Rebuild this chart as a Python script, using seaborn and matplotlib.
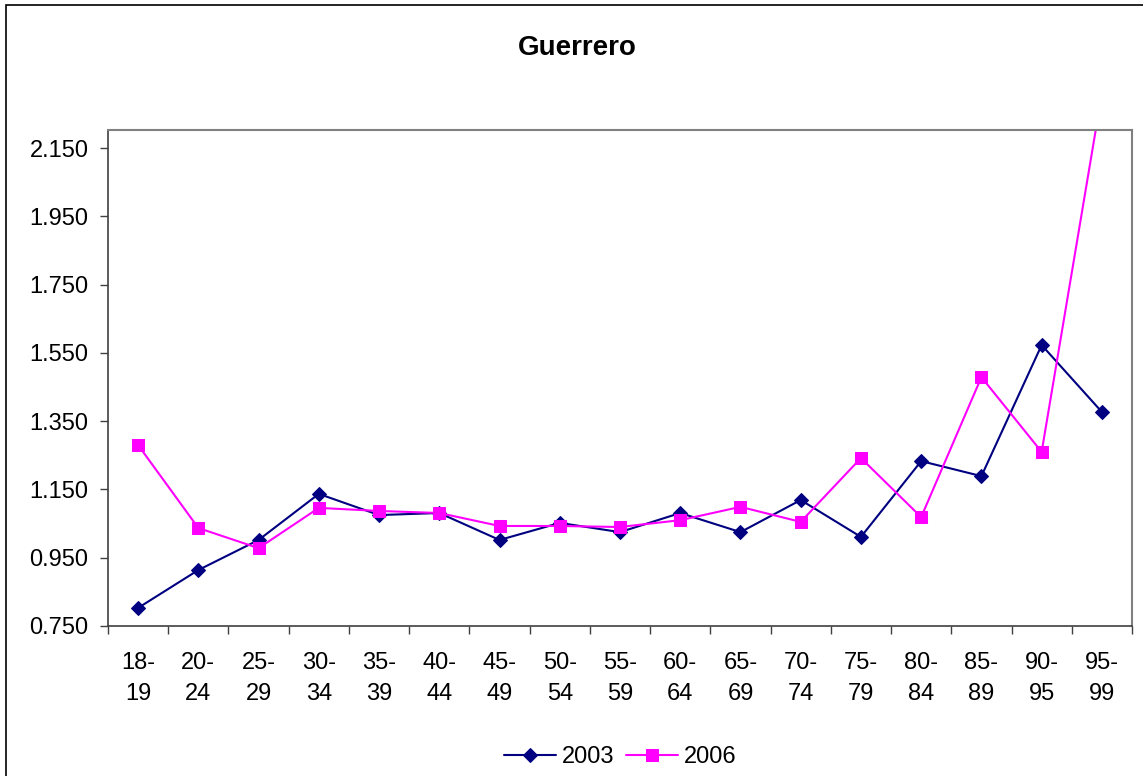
import numpy as np
import pandas as pd
import matplotlib
matplotlib.use("Agg")
import matplotlib.pyplot as plt
from matplotlib.patches import Rectangle
from matplotlib.ticker import FixedLocator, FixedFormatter
import seaborn as sns

# ==============================
# DATOS
# ==============================
grupos = ["18-\n19", "20-\n24", "25-\n29", "30-\n34", "35-\n39", "40-\n44",
          "45-\n49", "50-\n54", "55-\n59", "60-\n64", "65-\n69", "70-\n74",
          "75-\n79", "80-\n84", "85-\n89", "90-\n95", "95-\n99"]
valores_2003 = [0.803, 0.914, 1.002, 1.137, 1.075, 1.081, 1.002, 1.052, 1.025,
                1.081, 1.025, 1.119, 1.011, 1.233, 1.189, 1.573, 1.377]
valores_2006 = [1.280, 1.037, 0.978, 1.096, 1.087, 1.081, 1.043, 1.043, 1.040,
                1.060, 1.099, 1.055, 1.242, 1.069, 1.479, 1.260, 2.310]
ticks_y = [0.75, 0.95, 1.15, 1.35, 1.55, 1.75, 1.95, 2.15]
etiquetas_y = ["0.750", "0.950", "1.150", "1.350", "1.550", "1.750", "1.950", "2.150"]

df = pd.DataFrame({
    "pos": list(range(len(grupos))) * 2,
    "valor": valores_2003 + valores_2006,
    "serie": ["2003"] * len(grupos) + ["2006"] * len(grupos),
})

# ==============================
# CONFIGURACION VISUAL
# ==============================
sns.set_theme(style="white")
plt.rcParams["font.family"] = ["Liberation Sans", "DejaVu Sans"]
plt.rcParams["text.color"] = "black"
plt.rcParams["xtick.labelcolor"] = "black"
plt.rcParams["ytick.labelcolor"] = "black"

fig = plt.figure(figsize=(11.43, 7.76), dpi=100)
ax = fig.add_axes([108 / 1143, 150 / 776, (1132 - 108) / 1143, (626 - 130) / 776])

sns.lineplot(data=df[df["serie"] == "2003"], x="pos", y="valor", ax=ax,
             color="#000080", marker="D", markersize=7, linewidth=1.5,
             markeredgecolor="#000080", label="2003")
sns.lineplot(data=df[df["serie"] == "2006"], x="pos", y="valor", ax=ax,
             color="#FF00FF", marker="s", markersize=8, linewidth=1.5,
             markeredgecolor="#FF00FF", label="2006")

ax.set_xlim(-0.5, len(grupos) - 0.5)
ax.set_ylim(0.75, 2.203)
ax.set_xlabel("")
ax.set_ylabel("")

ax.xaxis.set_major_locator(FixedLocator(range(len(grupos))))
ax.xaxis.set_major_formatter(FixedFormatter(grupos))
ax.xaxis.set_minor_locator(FixedLocator(np.arange(-0.5, len(grupos), 1.0)))
ax.yaxis.set_major_locator(FixedLocator(ticks_y))
ax.yaxis.set_major_formatter(FixedFormatter(etiquetas_y))

ax.tick_params(axis="x", which="major", length=0, pad=19, labelsize=17,
               labelcolor="black")
ax.tick_params(axis="x", which="minor", length=6, width=1, direction="out",
               color="#404040", bottom=True)
ax.tick_params(axis="y", which="major", length=6, width=1, direction="out",
               color="#404040", pad=8, labelsize=17, left=True, labelcolor="black")
for lbl in ax.get_xticklabels():
    lbl.set_linespacing(1.5)

for lado in ["left", "bottom"]:
    ax.spines[lado].set_color("#404040")
    ax.spines[lado].set_linewidth(1.2)
for lado in ["top", "right"]:
    ax.spines[lado].set_color("#808080")
    ax.spines[lado].set_linewidth(1.5)
ax.grid(False)

fig.text(0.505, 1 - 48 / 776, "Guerrero", ha="center", va="center",
         fontsize=20, fontweight="bold", color="black")

leg = ax.legend(loc="center", bbox_to_anchor=(620 / 1143, 1 - 757 / 776),
                bbox_transform=fig.transFigure, ncol=2, frameon=False, fontsize=17,
                handlelength=2.2, handletextpad=0.25, columnspacing=0.5)
for t in leg.get_texts():
    t.set_color("black")

fig.patches.append(Rectangle((6 / 1143, -0.1), 1.2, 1.1 - 5 / 776, fill=False,
                             edgecolor="black", linewidth=1.2,
                             transform=fig.transFigure))

plt.savefig("out.png", dpi=100)
